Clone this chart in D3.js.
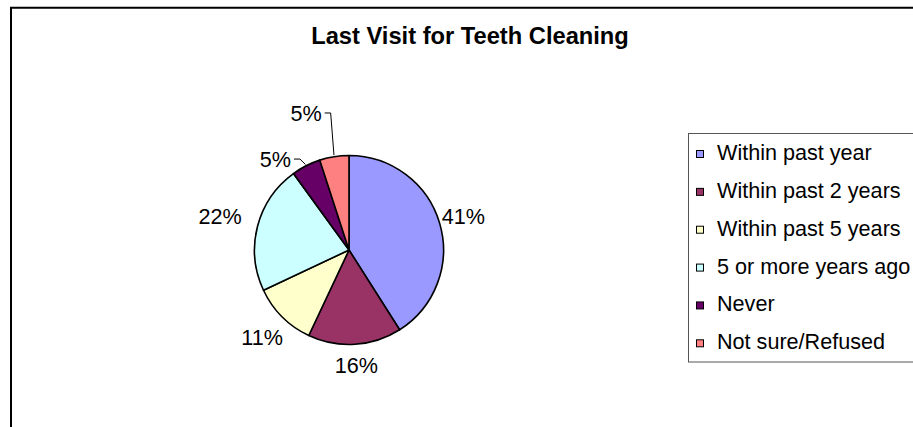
<!DOCTYPE html>
<html><head><meta charset="utf-8">
<script src="https://cdn.jsdelivr.net/npm/d3@7"></script>
<style>html,body{margin:0;padding:0;background:#fff;} svg{display:block;}</style>
</head><body>
<svg id="chart" width="913" height="427"></svg>
<script>
const title = "Last Visit for Teeth Cleaning";
const categories = ["Within past year", "Within past 2 years", "Within past 5 years", "5 or more years ago", "Never", "Not sure/Refused"];
const values = [41, 16, 11, 22, 5, 5];
const labels = ["41%", "16%", "11%", "22%", "5%", "5%"];
const colors = ["#9999FF", "#993366", "#FFFFCC", "#CCFFFF", "#660066", "#FF8080"];

// layout (not data)
const W = 913, H = 427;
const cx = 349, cy = 250, R = 94.5;
const labelRadius = [119, 115.5, 123, 133, 117, 143.6];
const labelAngleShift = [0, 0, 0, 0, -12, -8.4]; // degrees
const leader = [false, false, false, false, true, true];
const fontFam = "'Liberation Sans', Arial, sans-serif";

const svg = d3.select("#chart");
svg.append("rect").attr("width", W).attr("height", H).attr("fill", "#fff");
// chart border (left & top visible)
svg.append("path").attr("d", `M11,${H+5} L11,7.7 L${W+5},7.7`)
  .attr("fill", "none").attr("stroke", "#000").attr("stroke-width", 2);

svg.append("text").attr("x", 470).attr("y", 43.5).attr("text-anchor", "middle")
  .attr("font-family", fontFam).attr("font-weight", "bold").attr("font-size", 23.7)
  .text(title);

const pie = d3.pie().sort(null).value(d => d)(values);
const arc = d3.arc().innerRadius(0).outerRadius(R);
const g = svg.append("g").attr("transform", `translate(${cx},${cy})`);
g.selectAll("path.slice").data(pie).join("path").attr("class", "slice")
  .attr("d", arc).attr("fill", (d, i) => colors[i])
  .attr("stroke", "#000").attr("stroke-width", 1.6).attr("stroke-linejoin", "round");

const fs = 21.6;
pie.forEach((d, i) => {
  const mid = (d.startAngle + d.endAngle) / 2;
  const a = mid + labelAngleShift[i] * Math.PI / 180;
  const lx = Math.sin(a) * labelRadius[i];
  const ly = -Math.cos(a) * labelRadius[i];
  const t = g.append("text").attr("x", lx).attr("y", ly + fs * 0.35)
    .attr("text-anchor", "middle").attr("font-family", fontFam).attr("font-size", fs)
    .text(labels[i]);
  if (leader[i]) {
    const bb = t.node().getBBox();
    const x0 = bb.x + bb.width + 3, x1 = bb.x + bb.width + 9;
    const ex = Math.sin(mid) * (R + 1.5), ey = -Math.cos(mid) * (R + 1.5);
    g.append("path").attr("d", `M${x0},${ly} L${x1},${ly} L${ex},${ey}`)
      .attr("fill", "none").attr("stroke", "#000").attr("stroke-width", 1);
  }
});

// legend
const lg = svg.append("g");
lg.append("rect").attr("x", 688.5).attr("y", 133.5).attr("width", 260).attr("height", 228.5)
  .attr("fill", "#fff").attr("stroke", "#555").attr("stroke-width", 1);
const rowY = d3.scalePoint().domain(categories).range([160, 349.3]);
categories.forEach((c, i) => {
  const y = rowY(c);
  lg.append("rect").attr("x", 696.5).attr("y", y - 9.5).attr("width", 7).attr("height", 7)
    .attr("fill", colors[i]).attr("stroke", "#000").attr("stroke-width", 1);
  lg.append("text").attr("x", 717).attr("y", y).attr("font-family", fontFam).attr("font-size", fs)
    .text(c);
});
</script>
</body></html>
